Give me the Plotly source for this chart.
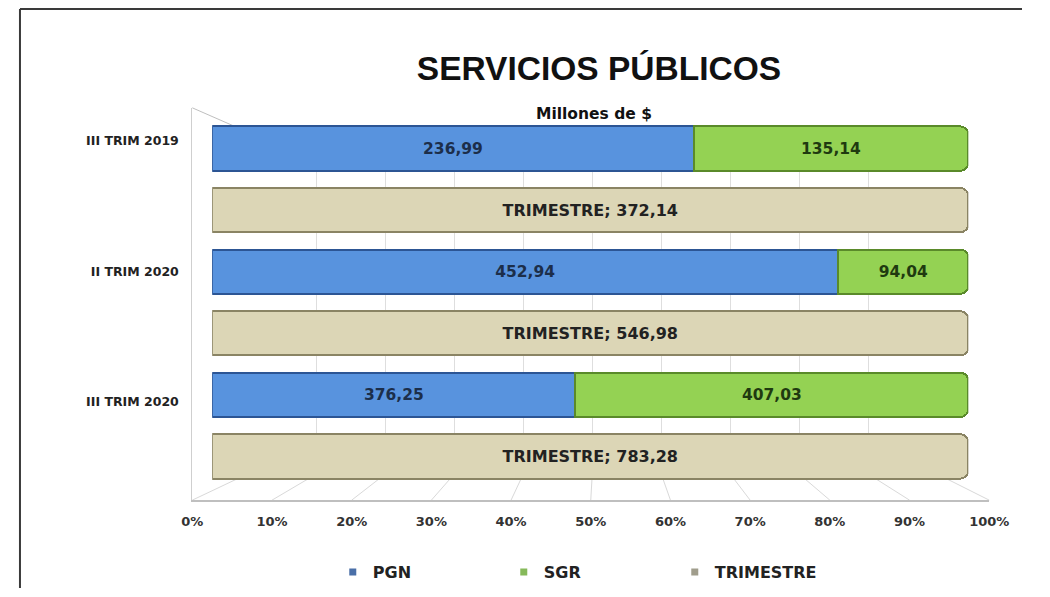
import plotly.graph_objects as go

trimestres = ["III TRIM 2019", "II TRIM 2020", "III TRIM 2020"]
pgn = [236.99, 452.94, 376.25]
sgr = [135.14, 94.04, 407.03]
total = [372.14, 546.98, 783.28]
pct_ticks = [0, 10, 20, 30, 40, 50, 60, 70, 80, 90, 100]

FONT = "DejaVu Sans"
PAGE_MARGIN = 8  # default body margin of the html page
W, H = 1050 - 2 * PAGE_MARGIN, 597 - 2 * PAGE_MARGIN
# the captured picture comes out slightly squeezed horizontally; undo it
SQ_A, SQ_B = 0.975, 10


def px_x(p):
    page = (p - SQ_B) / SQ_A
    return max(page - PAGE_MARGIN, 1) / W


def px_y(p):
    return 1 - max(p - PAGE_MARGIN, 1) / H


def fmt(v):
    return f"{v:.2f}".replace(".", ",")


# three depth planes of the fake 3D chart: back wall, front edge, bars in between
back_x = [px_x(247), px_x(941)]
back_y = [px_y(475), px_y(132)]
front_x = [px_x(192), px_x(993)]
front_y = [px_y(501), px_y(108)]
bar_x = [px_x(212), px_x(972)]
bar_y = [px_y(488), px_y(118)]

pos_stack = [2 * i for i in range(len(trimestres))]
pos_total = [2 * i + 1 for i in range(len(trimestres))]

fig = go.Figure()

# legend entries (small square markers like the original)
legend_items = [("PGN", "#4a6fa8"), ("SGR", "#86b95a"), ("TRIMESTRE", "#a09d8c")]
for name, col in legend_items:
    fig.add_trace(go.Scatter(x=[None], y=[None], mode="markers", name="<b>%s</b>" % name,
                             marker=dict(symbol="square", size=7, color=col),
                             xaxis="x", yaxis="y", hoverinfo="skip"))

fig.add_trace(go.Scatter(x=[None], y=[None], mode="markers", showlegend=False,
                         xaxis="x2", yaxis="y2", hoverinfo="skip"))

fig.add_trace(go.Bar(y=pos_stack, x=pgn, orientation="h", name="PGN", showlegend=False,
                     marker=dict(color="#5893de", line=dict(color="#2c5594", width=2)),
                     text=[fmt(v) for v in pgn], textposition="inside",
                     insidetextanchor="middle",
                     textfont=dict(family=FONT, size=15.5, color="#1c2e4a", weight="bold"),
                     xaxis="x3", yaxis="y3"))
fig.add_trace(go.Bar(y=pos_stack, x=sgr, orientation="h", name="SGR", showlegend=False,
                     marker=dict(color="#94d253", line=dict(color="#5a8a2a", width=2)),
                     text=[fmt(v) for v in sgr], textposition="inside",
                     insidetextanchor="middle",
                     textfont=dict(family=FONT, size=15.5, color="#1f3a10", weight="bold"),
                     xaxis="x3", yaxis="y3"))
fig.add_trace(go.Bar(y=pos_total, x=total, orientation="h", name="TRIMESTRE", showlegend=False,
                     marker=dict(color="#dcd6b6", line=dict(color="#8a8464", width=2)),
                     text=["TRIMESTRE; " + fmt(v) for v in total], textposition="inside",
                     insidetextanchor="middle",
                     textfont=dict(family=FONT, size=16, color="#222222", weight="bold"),
                     xaxis="x3", yaxis="y3"))

# floor lines joining back wall grid to front axis ticks
shapes = []
for v in pct_ticks:
    xb = back_x[0] + v / 100 * (back_x[1] - back_x[0])
    xf = front_x[0] + v / 100 * (front_x[1] - front_x[0])
    shapes.append(dict(type="line", xref="paper", yref="paper", x0=xb, y0=back_y[0],
                       x1=xf, y1=front_y[0], line=dict(color="#d9d9d9", width=1), layer="below"))
# top edge of the left wall
shapes.append(dict(type="line", xref="paper", yref="paper", x0=front_x[0], y0=front_y[1],
                   x1=back_x[0], y1=back_y[1], line=dict(color="#bfbfbf", width=1), layer="below"))
# outer frame
shapes.append(dict(type="line", xref="paper", yref="paper", x0=px_x(8), y0=px_y(6),
                   x1=1, y1=px_y(6), line=dict(color="#3a3a3a", width=2)))
shapes.append(dict(type="line", xref="paper", yref="paper", x0=px_x(8), y0=px_y(6),
                   x1=px_x(8), y1=0, line=dict(color="#3a3a3a", width=2)))

fig.update_layout(
    width=W, height=H,
    margin=dict(l=0, r=0, t=0, b=0),
    paper_bgcolor="white", plot_bgcolor="rgba(0,0,0,0)",
    barmode="stack", barnorm="percent", bargap=0.28,
    barcornerradius=8,
    title=dict(text="<b>SERVICIOS PÚBLICOS</b>", x=px_x(594), xanchor="center",
               y=px_y(68), yanchor="middle",
               font=dict(family="Liberation Sans", size=33.5, color="#111111")),
    annotations=[dict(text="<b>Millones de $</b>", x=px_x(596), y=px_y(103),
                      xref="paper", yref="paper", showarrow=False,
                      font=dict(family=FONT, size=15.5, color="#111111"))],
    shapes=shapes,
    showlegend=True,
    legend=dict(orientation="h", traceorder="normal", x=px_x(591), xanchor="center",
                y=px_y(573), yanchor="middle",
                font=dict(family=FONT, size=16, color="#222222"),
                itemwidth=30, entrywidth=126, bgcolor="rgba(0,0,0,0)"),
    # back wall
    xaxis=dict(domain=back_x, range=[0, 100], tickvals=pct_ticks, showgrid=True,
               gridcolor="#dedede", gridwidth=1, showticklabels=False, zeroline=False,
               showline=False, anchor="y", fixedrange=True),
    yaxis=dict(domain=back_y, range=[0, 1], showgrid=False, showticklabels=False,
               zeroline=False, showline=False, anchor="x"),
    # front edge: percent ticks and category labels
    xaxis2=dict(domain=front_x, range=[0, 100], tickvals=pct_ticks,
                ticktext=["<b>%d%%</b>" % v for v in pct_ticks], showgrid=False,
                zeroline=False, showline=True, linecolor="#bfbfbf", linewidth=2,
                ticks="", ticklabelstandoff=8, anchor="y2",
                tickfont=dict(family=FONT, size=13, color="#333333")),
    yaxis2=dict(domain=front_y, range=[5.5, -0.5], tickvals=pos_stack,
                ticktext=["<b>%s</b>" % t for t in trimestres], showgrid=False,
                zeroline=False, showline=True, linecolor="#cfcfcf", linewidth=1,
                ticks="", ticklabelstandoff=10, anchor="x2",
                tickfont=dict(family=FONT, size=12.5, color="#222222")),
    # bars
    xaxis3=dict(domain=bar_x, range=[0, 100], showgrid=False, showticklabels=False,
                zeroline=False, showline=False, anchor="y3"),
    yaxis3=dict(domain=bar_y, range=[5.5, -0.5], showgrid=False, showticklabels=False,
                zeroline=False, showline=False, anchor="x3"),
)

fig.write_html("out.html")
